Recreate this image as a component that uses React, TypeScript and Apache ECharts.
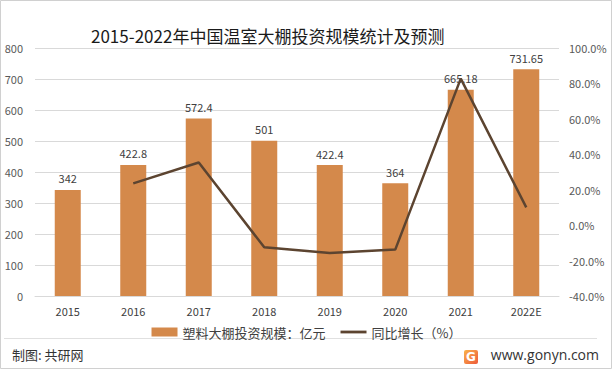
import React, { useEffect, useRef } from "react";
import * as echarts from "echarts";

const categories = ["2015", "2016", "2017", "2018", "2019", "2020", "2021", "2022E"];
const scaleValues = [342, 422.8, 572.4, 501, 422.4, 364, 665.18, 731.65];
const growthValues: (number | string)[] = ["-", 23.6, 35.4, -12.5, -15.7, -13.8, 82.7, 10.0];
const leftTicks = { min: 0, max: 800, interval: 100 };
const rightTicks = { min: -40, max: 100, interval: 20 };
const barName = "塑料大棚投资规模：亿元";
const lineName = "同比增长（%）";
const titleText = "2015-2022年中国温室大棚投资规模统计及预测";

const FONT = "'Noto Sans CJK SC', 'Noto Sans', sans-serif";

export default function App() {
  const ref = useRef<HTMLDivElement>(null);
  useEffect(() => {
    if (!ref.current) return;
    const chart = echarts.init(ref.current, undefined, { renderer: "svg" });
    chart.setOption({
      animation: false,
      backgroundColor: "#ffffff",
      textStyle: { fontFamily: FONT },
      title: {
        text: titleText,
        left: 86,
        top: 20,
        textStyle: { fontSize: 17, fontWeight: "normal", color: "#1a1a1a", fontFamily: FONT, lineHeight: 20 },
      },
      legend: {
        bottom: 31,
        left: "center",
        itemGap: 15,
        itemWidth: 26,
        itemHeight: 9,
        padding: [0, 5],
        textStyle: { fontSize: 13, color: "#404040", fontFamily: FONT, lineHeight: 14 },
        data: [
          { name: barName, icon: "rect" },
          { name: lineName, icon: "path://M0,0 L28,0 L28,3 L0,3 Z" },
        ],
      },
      grid: { left: 35, right: 54, top: 48, bottom: 74 },
      xAxis: {
        type: "category",
        data: categories,
        axisLine: { lineStyle: { color: "#d9d9d9" } },
        axisTick: { show: false },
        axisLabel: { color: "#404040", fontSize: 11, margin: 9, lineHeight: 12 },
      },
      yAxis: [
        {
          type: "value",
          ...leftTicks,
          axisLine: { show: false },
          axisTick: { show: false },
          splitLine: { lineStyle: { color: "#d9d9d9" } },
          axisLabel: { color: "#595959", fontSize: 11, margin: 12 },
        },
        {
          type: "value",
          ...rightTicks,
          axisLine: { show: false },
          axisTick: { show: false },
          splitLine: { show: false },
          axisLabel: {
            color: "#595959",
            fontSize: 11,
            margin: 10,
            align: "left",
            formatter: (v: number) => v.toFixed(1) + "%",
          },
        },
      ],
      series: [
        {
          name: barName,
          type: "bar",
          data: scaleValues,
          barWidth: 26,
          itemStyle: { color: "#D4894B" },
          label: {
            show: true,
            position: "top",
            color: "#404040",
            fontSize: 11,
            distance: 6,
          },
        },
        {
          name: lineName,
          type: "line",
          yAxisIndex: 1,
          data: growthValues,
          symbol: "none",
          lineStyle: { color: "#5C4430", width: 2.5 },
          itemStyle: { color: "#5C4430" },
        },
      ],
      graphic: [
        {
          type: "rect",
          shape: { x: 0.5, y: 0.5, width: 611, height: 368 },
          style: { fill: "none", stroke: "#d0d0d0", lineWidth: 1 },
          silent: true,
        },
        {
          type: "line",
          shape: { x1: 4, y1: 338.5, x2: 597, y2: 338.5 },
          style: { stroke: "#e0e0e0", lineWidth: 1 },
          silent: true,
        },
        {
          type: "text",
          left: 12,
          top: 348,
          style: { text: "制图: 共研网", fontSize: 13, fill: "#333333", fontFamily: FONT },
        },
        {
          type: "rect",
          shape: { x: 464, y: 350, width: 14, height: 14, r: 2 },
          style: {
            fill: new echarts.graphic.LinearGradient(0, 0, 1, 1, [
              { offset: 0, color: "#F9B24A" },
              { offset: 1, color: "#EE5A3A" },
            ]),
          },
        },
        {
          type: "text",
          x: 471,
          y: 357,
          style: {
            text: "G",
            fontSize: 12,
            fontWeight: "bold",
            fill: "#ffffff",
            align: "center",
            verticalAlign: "middle",
            fontFamily: "'DejaVu Sans', sans-serif",
          },
        },
        {
          type: "text",
          right: 14,
          top: 347,
          style: { text: "www.gonyn.com", fontSize: 14, fill: "#333333", fontFamily: "'Open Sans', 'Noto Sans', sans-serif" },
        },
      ],
    });
    return () => chart.dispose();
  }, []);
  return (
    <div
      ref={ref}
      style={{ position: "fixed", left: 0, top: 0, width: 613, height: 370 }}
    />
  );
}
